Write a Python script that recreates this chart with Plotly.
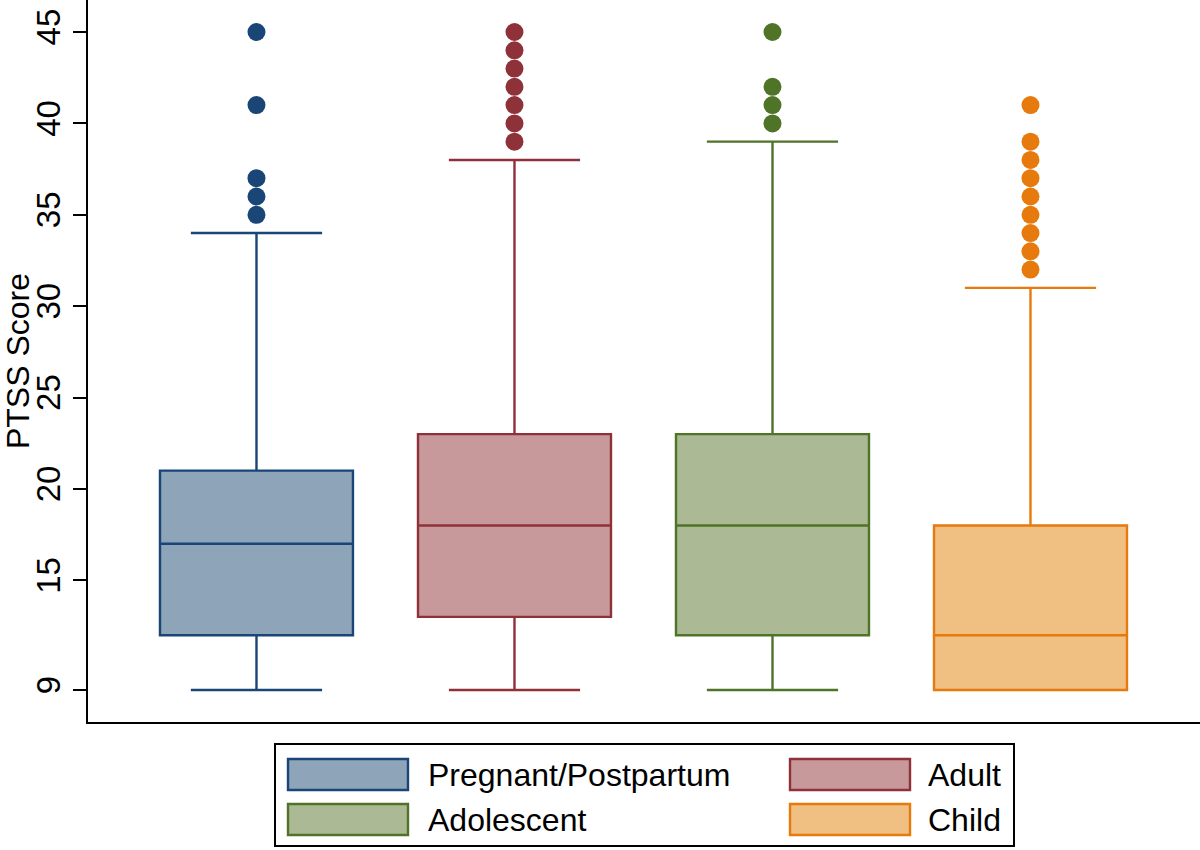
import plotly.graph_objects as go

# ---- data ----
groups = ["Pregnant/Postpartum", "Adult", "Adolescent", "Child"]
lower_whisker = [9, 9, 9, 9]
q1_vals = [12, 13, 12, 9]
median_vals = [17, 18, 18, 12]
q3_vals = [21, 23, 23, 18]
upper_whisker = [34, 38, 39, 31]
outliers = [
    [35, 36, 37, 41, 45],
    [39, 40, 41, 42, 43, 44, 45],
    [40, 41, 42, 45],
    [32, 33, 34, 35, 36, 37, 38, 39, 41],
]
y_ticks = [9, 15, 20, 25, 30, 35, 40, 45]

# ---- styles ----
line_colors = ["#1a4677", "#8f3139", "#4f7327", "#e67a0c"]
fill_colors = ["#8ea4b9", "#c8999b", "#abb995", "#f0bf82"]
FONT = "Liberation Sans, Arial, Helvetica, sans-serif"

fig = go.Figure()
for i, g in enumerate(groups):
    fig.add_trace(go.Box(
        x=[i], q1=[q1_vals[i]], median=[median_vals[i]], q3=[q3_vals[i]],
        lowerfence=[lower_whisker[i]], upperfence=[upper_whisker[i]],
        name=g, fillcolor=fill_colors[i],
        line=dict(color=line_colors[i], width=2.4),
        width=0.748, whiskerwidth=0.68, boxpoints=False,
        showlegend=False, hoverinfo="skip",
    ))
    fig.add_trace(go.Scatter(
        x=[i] * len(outliers[i]), y=outliers[i], mode="markers",
        marker=dict(color=line_colors[i], size=18, line=dict(width=0)),
        showlegend=False, hoverinfo="skip",
    ))

# ---- manual legend (Stata style, wide swatches, 2 columns) ----
L, R, B, T = 88, 1200, 722, 0
def px(x):
    return (x - L) / (R - L)
def py(y):
    return (B - y) / (B - T)

shapes = [dict(type="rect", xref="paper", yref="paper",
               x0=px(275), x1=px(1014), y0=py(744), y1=py(846),
               line=dict(color="black", width=2), fillcolor="white", layer="below")]
annotations = []
legend_pos = [(288, 759), (790, 759), (288, 804), (790, 804)]
text_x = [426, 926, 426, 926]
for i, g in enumerate(groups):
    x0, y0 = legend_pos[i]
    shapes.append(dict(type="rect", xref="paper", yref="paper",
                       x0=px(x0), x1=px(x0 + 120), y0=py(y0), y1=py(y0 + 31),
                       line=dict(color=line_colors[i], width=2.4),
                       fillcolor=fill_colors[i]))
    annotations.append(dict(xref="paper", yref="paper", x=px(text_x[i]), y=py(y0 + 16),
                            text=g, showarrow=False, xanchor="left", yanchor="middle",
                            font=dict(family=FONT, size=32, color="black")))

fig.update_layout(
    width=1200, height=850,
    margin=dict(l=L, r=1200 - R, t=T, b=850 - B),
    paper_bgcolor="white", plot_bgcolor="white",
    shapes=shapes, annotations=annotations,
    font=dict(family=FONT, color="black"),
    xaxis=dict(range=[-0.653, 3.657], showticklabels=False, ticks="",
               showgrid=False, zeroline=False, showline=True,
               linecolor="black", linewidth=2),
    yaxis=dict(range=[7.25, 46.75], tickvals=y_ticks, ticktext=[str(v) for v in y_ticks],
               tickangle=-90, ticks="outside", ticklen=13, tickwidth=2, tickcolor="black",
               tickfont=dict(family=FONT, size=33, color="black"),
               showgrid=False, zeroline=False, showline=True,
               linecolor="black", linewidth=2,
               title=dict(text="PTSS Score", standoff=0,
                          font=dict(family=FONT, size=32, color="black"))),
)

fig.write_html("out.html", config={"displayModeBar": False},
               post_script="document.body.style.margin='0';document.body.style.overflow='hidden';")
